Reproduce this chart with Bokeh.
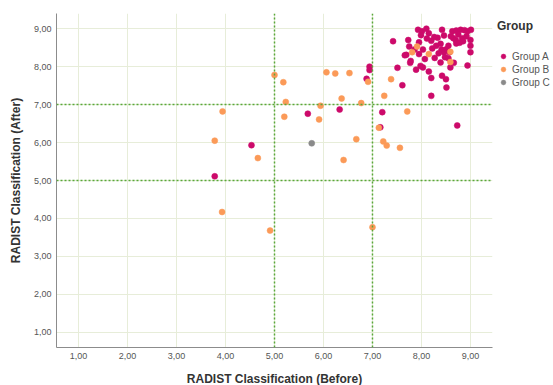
from bokeh.plotting import figure
from bokeh.models import Range1d, FixedTicker, Span, Legend, LegendItem, ColumnDataSource
from bokeh.embed import file_html
from bokeh.resources import INLINE

# Group A (magenta)
a_before = [3.78, 4.53, 5.68, 6.33, 6.88, 6.94, 6.94, 7.16, 7.20, 7.42, 7.51, 7.61, 8.20, 8.73,
            7.93, 8.01, 7.99, 8.15, 8.11, 8.20, 8.33, 8.42, 8.46, 8.63, 8.71, 8.80, 8.94, 9.01, 8.88,
            8.65, 8.70, 8.83, 8.85, 9.00, 8.71, 9.00, 8.39, 7.73, 7.75, 7.69, 7.86, 7.95, 8.03, 8.27,
            8.22, 8.41, 8.46, 8.51, 8.48, 8.39, 8.66, 9.00, 8.94, 7.77, 7.89, 7.98, 8.03, 8.15, 8.20,
            8.42, 8.50, 8.51, 8.59, 7.66, 7.78, 8.26, 8.30, 8.55, 8.60, 8.75, 8.55, 8.92, 8.78, 8.07,
            8.35, 7.95, 8.10, 8.57]
a_after = [5.11, 5.93, 6.76, 6.87, 7.68, 8.00, 7.91, 6.40, 6.80, 8.67, 7.97, 7.51, 7.23, 6.45,
           8.97, 8.93, 8.83, 8.88, 8.74, 8.68, 8.76, 8.97, 8.82, 8.93, 8.95, 8.97, 8.93, 8.97, 8.96,
           8.75, 8.70, 8.75, 8.67, 8.70, 8.61, 8.55, 8.60, 8.70, 8.53, 8.31, 8.45, 8.33, 8.45, 8.23,
           8.48, 8.45, 8.38, 8.46, 8.25, 8.11, 8.10, 8.38, 8.03, 8.10, 7.92, 8.02, 7.98, 7.87, 7.70,
           7.76, 7.67, 7.45, 7.98, 8.30, 8.15, 8.78, 8.55, 8.55, 8.80, 8.85, 8.22, 8.80, 8.63, 8.20,
           8.35, 8.64, 9.00, 8.38]

# Group B (orange)
b_before = [3.78, 3.93, 3.94, 4.66, 4.91, 5.00, 5.18, 5.20, 5.23, 5.91, 5.94, 6.06, 6.24, 6.37,
            6.41, 6.53, 6.67, 6.77, 6.91, 7.00, 7.13, 7.22, 7.24, 7.29, 7.38, 7.56, 7.71, 7.91,
            7.81, 8.15, 8.59, 8.59]
b_after = [6.05, 4.17, 6.82, 5.59, 3.68, 7.78, 7.59, 6.68, 7.07, 6.61, 6.97, 7.85, 7.82, 7.16,
           5.54, 7.83, 6.09, 7.04, 7.60, 3.77, 6.39, 6.03, 7.23, 5.92, 7.67, 5.86, 6.82, 8.53,
           8.38, 8.33, 8.39, 8.12]

# Group C (gray)
c_before = [5.76]
c_after = [5.98]

ticks = [1, 2, 3, 4, 5, 6, 7, 8, 9]
tick_labels = ["1,00", "2,00", "3,00", "4,00", "5,00", "6,00", "7,00", "8,00", "9,00"]
ref_lines = [5, 7]
groups = ["Group A", "Group B", "Group C"]
colors = ["#cc0a6a", "#fb9a58", "#8a8a8a"]

FONT = "Liberation Sans"

p = figure(width=553, height=385, output_backend="svg", toolbar_location=None,
           x_range=Range1d(0.55, 9.45), y_range=Range1d(0.6, 9.4),
           frame_width=436, frame_height=334,
           min_border_left=56, min_border_right=61, min_border_top=13, min_border_bottom=38)
p.outline_line_color = None
p.background_fill_color = "white"
p.border_fill_color = "white"

for ax in (p.xaxis[0], p.yaxis[0]):
    ax.ticker = FixedTicker(ticks=ticks)
    ax.major_label_overrides = {float(t): l for t, l in zip(ticks, tick_labels)}
    ax.major_tick_out = 0
    ax.major_tick_in = 0
    ax.minor_tick_out = 0
    ax.minor_tick_in = 0
    ax.axis_line_color = "#8c8c8c"
    ax.axis_line_width = 1
    ax.major_label_text_font = FONT
    ax.major_label_text_font_size = "9px"
    ax.major_label_text_color = "#555555"
    ax.axis_label_text_font = FONT
    ax.axis_label_text_font_size = "12px"
    ax.axis_label_text_font_style = "bold"
    ax.axis_label_text_color = "#333333"

p.xaxis.axis_label = "RADIST Classification (Before)"
p.yaxis.axis_label = "RADIST Classification (After)"
p.xaxis.major_label_standoff = 5
p.xaxis.axis_label_standoff = 10
p.yaxis.major_label_standoff = 5
p.yaxis.axis_label_standoff = 8

p.grid.grid_line_color = "#e7edd9"
p.grid.grid_line_width = 1
p.xgrid.ticker = FixedTicker(ticks=ticks)
p.ygrid.ticker = FixedTicker(ticks=ticks)

for v in ref_lines:
    p.add_layout(Span(location=v, dimension="height", line_color="#5aa83a",
                      line_width=1.5, line_dash="2 2"))
    p.add_layout(Span(location=v, dimension="width", line_color="#5aa83a",
                      line_width=1.5, line_dash="2 2"))

rs = []
for xs, ys, c in ((a_before, a_after, colors[0]), (b_before, b_after, colors[1]),
                  (c_before, c_after, colors[2])):
    src = ColumnDataSource(dict(x=xs, y=ys))
    r = p.scatter("x", "y", source=src, size=6, fill_color=c, line_color=c, line_width=0.5)
    rs.append(r)

legend = Legend(items=[LegendItem(label=g, renderers=[r]) for g, r in zip(groups, rs)],
                location=(5, 259), padding=0, margin=0, spacing=1,
                glyph_width=12, glyph_height=12, label_height=12, label_standoff=3,
                label_text_font=FONT, label_text_font_size="10px",
                label_text_color="#555555",
                title="Group", title_text_font=FONT, title_text_font_size="12px",
                title_text_font_style="bold", title_text_color="#333333",
                title_standoff=17,
                border_line_color=None, background_fill_alpha=0)
p.add_layout(legend, "right")

open("out.html", "w").write(file_html(p, INLINE))
